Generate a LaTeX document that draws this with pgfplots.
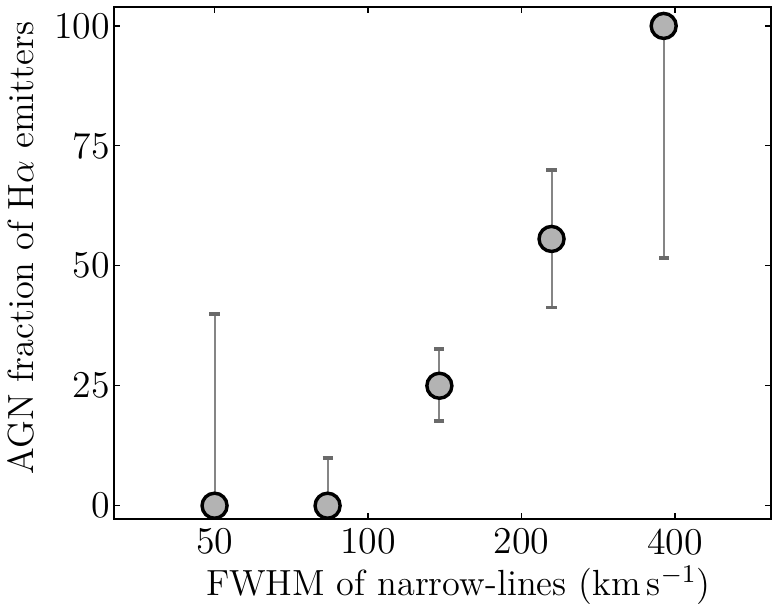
\RequirePackage{fix-cm}
\documentclass[border=0pt]{standalone}
\usepackage{fontspec}
\usepackage{pgfplots}
\pgfplotsset{compat=1.18}
\definecolor{markfill}{HTML}{B3B3B3}
\definecolor{errline}{HTML}{858585}
\definecolor{errcap}{HTML}{6A6A6A}
\newcommand{\labfont}{\fontsize{12.2pt}{14pt}\selectfont}
\newcommand{\tickfont}{\fontsize{12.7pt}{14pt}\selectfont}
\begin{document}
\begin{tikzpicture}
\begin{axis}[
  xmode=log,
  scale only axis,
  width=220.37pt, height=171.9pt,
  xmin=31.8, xmax=617,
  ymin=-2.77, ymax=104,
  xtick={50,100,200,400},
  xticklabels={50,100,200,400},
  minor xtick={},
  ytick={0,25,50,75,100},
  /pgf/number format/assume math mode=true,
  tick align=inside,
  tick pos=both,
  major tick length=2pt,
  every tick/.style={black, line width=0.4pt},
  axis line style={line width=0.6pt},
  yticklabel style={inner sep=1.3pt, font=\tickfont},
  xticklabel style={inner sep=0pt, yshift=-3.0pt, font=\tickfont},
  every axis x label/.style={at={(axis description cs:0.524,-0.1495)}, anchor=base, inner sep=0pt, font=\labfont},
  every axis y label/.style={at={(axis description cs:-0.1233,0.529)}, anchor=base, rotate=90, inner sep=0pt, font=\labfont},
  xlabel={FWHM of narrow-lines (km\,s$^{-1}$)},
  ylabel={AGN fraction of H$\alpha$ emitters},
  clip=false,
]
\addplot[
  only marks,
  mark=*,
  mark size=4.2pt,
  mark options={draw=black, fill=markfill, line width=1.15pt},
  error bars/.cd,
    y dir=both, y explicit,
    error bar style={color=errline, line width=0.7pt},
    error mark options={rotate=90, color=errcap, line width=1.3pt, mark size=1.7pt},
] table[x=x, y=y, y error plus=ep, y error minus=em] {
x     y     ep    em
50    0     40    0
83.3  0     10    0
138   25    7.6   7.4
229   55.6  14.4  14.3
380   100   0     48.3
};
\end{axis}
\pgfresetboundingbox
\path[use as bounding box] (-38.36pt,-28.52pt) rectangle (220.7pt,174.16pt);
\end{tikzpicture}
\end{document}
